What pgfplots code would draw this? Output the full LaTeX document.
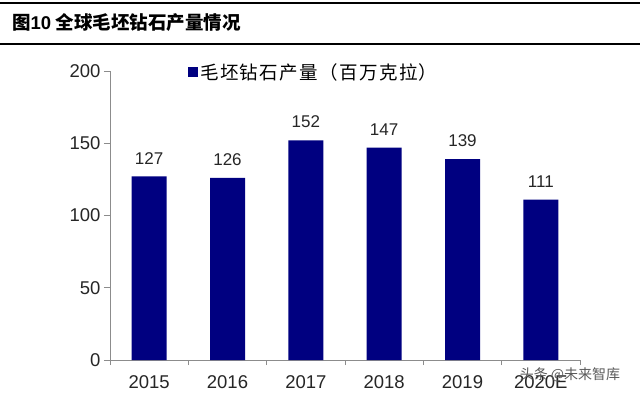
\documentclass[border=0pt]{standalone}
\usepackage{fontspec}
\setmainfont{Liberation Sans}
\newfontfamily\cjk{Noto Sans CJK SC}
\newfontfamily\cjkl[LetterSpace=7.5]{Noto Sans CJK SC}
\usepackage{pgfplots}
\pgfplotsset{compat=1.18}
\definecolor{navy}{RGB}{0,0,128}
\definecolor{axgray}{RGB}{140,140,140}
\begin{document}
\begin{tikzpicture}
% pixel (px,py) -> (px-110 bp, 360-py bp)
\useasboundingbox (-110bp,360bp) rectangle (530bp,-36bp);
\draw[line width=2bp] (-110bp,357bp) -- (530bp,357bp);
\draw[line width=2bp] (-110bp,316bp) -- (530bp,316bp);
\node[anchor=west, inner sep=0] at (-98bp,337bp) {\fontsize{18.5bp}{20bp}\selectfont\bfseries\cjk 图{\rmfamily\bfseries 10} 全球毛坯钻石产量情况};
\begin{axis}[
  scale only axis, width=470bp, height=289bp,
  xmin=-0.5, xmax=5.5, ymin=0, ymax=200,
  axis x line*=bottom, axis y line*=left,
  axis line style={-, draw=axgray, line width=0.8bp},
  ytick={0,50,100,150,200},
  xtick={0,1,2,3,4,5},
  xticklabels={2015,2016,2017,2018,2019,2020E},
  minor xtick={-0.5,0.5,1.5,2.5,3.5,4.5,5.5},
  tick align=outside,
  major tick length=6bp, minor tick length=5bp,
  tick style={draw=axgray, line width=0.8bp},
  major x tick style={draw=none},
  ticklabel style={font=\fontsize{18.5bp}{20bp}\selectfont, text=black!85},
  xticklabel style={yshift=-6bp},
  /pgf/number format/assume math mode=true,
  legend style={at={(0.166,0.9965)}, anchor=west, draw=none, fill=none,
    font=\cjkl\fontsize{18.5bp}{20bp}\selectfont, inner sep=0pt},
  legend cell align=left,
]
\addplot[ybar, bar width=35bp, fill=navy, draw=none,
  nodes near coords,
  every node near coord/.append style={font=\fontsize{17bp}{18bp}\selectfont, text=black!85, inner sep=0pt, anchor=south, yshift=12bp},
  legend image code/.code={\fill[navy] (0bp,-5bp) rectangle (10bp,5bp);}]
  coordinates {(0,127) (1,126) (2,152) (3,147) (4,139) (5,111)};
\addlegendentry{毛坯钻石产量（百万克拉）}
\end{axis}
\node[anchor=center, text=black!65, inner sep=0] at (460bp,-15bp) {\cjk\fontsize{14bp}{15bp}\selectfont 头条 @未来智库};
\end{tikzpicture}
\end{document}
